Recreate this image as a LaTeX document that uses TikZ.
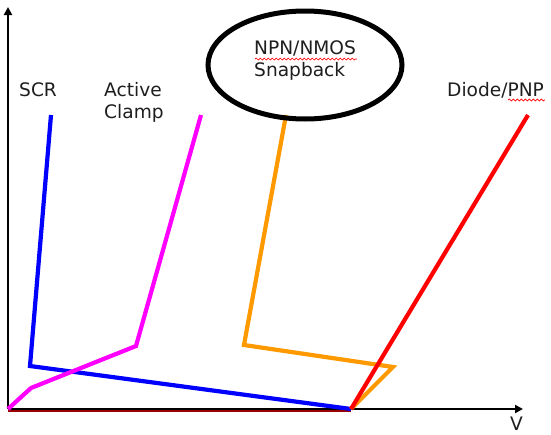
\documentclass[tikz,border=0pt]{standalone}
\usepackage{fontspec}
\setmainfont{DejaVu Sans}
\usetikzlibrary{arrows.meta,decorations.pathmorphing}
\definecolor{scrblue}{RGB}{0,0,255}
\definecolor{clampmag}{RGB}{255,0,255}
\definecolor{snaporange}{RGB}{255,153,0}
\definecolor{diodered}{RGB}{255,0,0}
\definecolor{txt}{RGB}{30,30,30}
\tikzset{
  axisline/.style={line width=2pt,-{Triangle[length=8pt,width=8pt]}},
  curveline/.style={line width=4.2pt,line join=miter},
  lbl/.style={anchor=base west,inner sep=0pt,text=txt,font=\fontsize{18.6}{22}\selectfont},
  spell/.style={draw=red,line width=0.7pt,decorate,decoration={snake,amplitude=1pt,segment length=4pt}}
}
\begin{document}
\begin{tikzpicture}[x=1pt,y=-1pt]
\useasboundingbox (0,0) rectangle (551,434);
% points
\coordinate (O) at (8,409);
\coordinate (ytop) at (8,7);
\coordinate (xend) at (523,409);
\coordinate (P) at (351,409);
% axes
\draw[diodered!60!black,line width=3pt] (8,410) -- (351,410);
\draw[axisline] (O) -- (ytop);
\draw[axisline] (O) -- (xend);
% curves
\coordinate (b1) at (51,115); \coordinate (b2) at (30,366);
\draw[curveline,scrblue] (b1) -- (b2) -- (P);
\coordinate (m1) at (201,115); \coordinate (m2) at (136,346); \coordinate (m3) at (31,388);
\draw[curveline,clampmag] (m1) -- (m2) -- (m3) -- (O);
\coordinate (o1) at (286,115); \coordinate (o2) at (244,345); \coordinate (o3) at (393,367);
\draw[curveline,snaporange] (o1) -- (o2) -- (o3) -- (P);
\coordinate (r1) at (528,115);
\draw[curveline,diodered] (r1) -- (P);
% ellipse
\draw[line width=5pt] (305,65) ellipse [x radius=97, y radius=54];
% labels
\node[lbl] (npn) at (254,54) {NPN/NMOS};
\node[lbl] (snap) at (254,76) {Snapback};
\node[lbl] (scr) at (19,96) {SCR};
\node[lbl] (act) at (104,96) {Active};
\node[lbl] (clamp) at (104,118) {Clamp};
\node[lbl] (diode) at (447,96) {Diode/PNP};
\node[lbl] (v) at (510,430) {V};
% spellcheck squiggles
\coordinate (s1a) at (255,59); \coordinate (s1b) at (357,59);
\draw[spell] (s1a) -- (s1b);
\coordinate (s2a) at (508,100); \coordinate (s2b) at (545,100);
\draw[spell] (s2a) -- (s2b);
\end{tikzpicture}
\end{document}
